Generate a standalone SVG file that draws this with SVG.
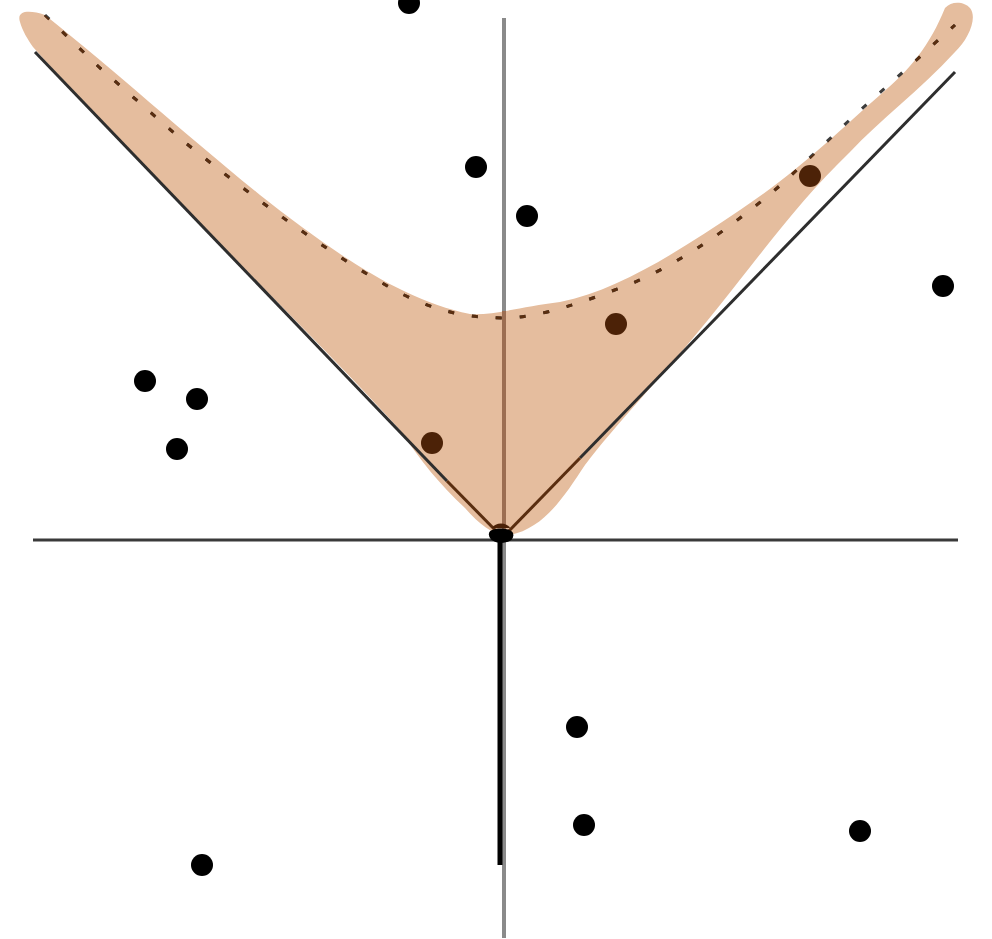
<svg xmlns="http://www.w3.org/2000/svg" width="992" height="939" viewBox="0 0 992 939">
<style>
.dot{fill:#000}
.bdot{fill:#4c2207}
.axis{stroke:#3a3a3a;stroke-width:3;fill:none}
.diag{stroke:#2e2e2e;stroke-width:3;fill:none}
.inner{stroke:#5a2e10;stroke-width:3;fill:none}
.dash{fill:none;stroke-width:3;stroke-dasharray:6 18}
</style>
<defs>
<path id="blob" d="M20,22 C16,10 30,10 45,15 C120,75 180,130 260,195 C330,250 400,300 470,314 C490,316 520,307 560,302 C620,290 680,250 740,210 C800,170 840,130 880,95 C910,70 930,45 945,8 C952,0 965,2 970,8 C978,18 968,40 955,52 C920,90 880,120 850,152 C800,200 760,255 720,305 C660,380 615,425 585,465 C565,495 545,528 510,535 C495,537 480,525 465,508 C440,485 420,460 400,430 C300,320 150,180 33,47 C28,40 22,30 20,22 Z"/>
<path id="curve" d="M45,15 L100,68 L182,140 C250,195 330,255 400,293 C440,313 470,318 505,318 C540,318 590,300 635,282 C690,258 740,220 783,183 L857,113 L914,62 L955,25"/>
<clipPath id="inside"><use href="#blob"/></clipPath>
</defs>
<rect width="992" height="939" fill="#fff"/>
<g id="axes">
<line x1="504" y1="18" x2="504" y2="938" stroke="#8a8a8a" stroke-width="4"/>
<line class="axis" x1="33" y1="540" x2="958" y2="540"/>
</g>
<g id="dots-under">
<circle class="dot" cx="476" cy="167" r="11"/>
<circle class="dot" cx="527" cy="216" r="11"/>
</g>
<g id="region">
<use href="#blob" fill="#e5bd9e"/>
<line x1="504" y1="311" x2="504" y2="530" stroke="#9c6e52" stroke-width="4"/>
</g>
<g id="connectors">
<line class="diag" x1="35" y1="52" x2="447" y2="481"/>
<line class="inner" x1="447" y1="481" x2="500" y2="535"/>
<line class="diag" x1="955" y1="72" x2="580" y2="458"/>
<line class="inner" x1="580" y1="458" x2="508" y2="532"/>
<line x1="500" y1="530" x2="500" y2="865" stroke="#000" stroke-width="5"/>
<use href="#curve" class="dash" stroke="#3c3c3c"/>
<use href="#curve" class="dash" stroke="#5a2e10" clip-path="url(#inside)"/>
</g>
<g id="origin">
<path fill="#000" d="M489,533 C490,527 511,527 513,533 C515,540 508,543 501,543 C494,543 488,539 489,533 Z"/>
<path fill="#4c2207" d="M492,528 C495,522 507,522 510,528 Z"/>
</g>
<g id="points">
<circle class="dot" cx="409" cy="3" r="11"/>
<circle class="dot" cx="943" cy="286" r="11"/>
<circle class="dot" cx="145" cy="381" r="11"/>
<circle class="dot" cx="197" cy="399" r="11"/>
<circle class="dot" cx="177" cy="449" r="11"/>
<circle class="dot" cx="577" cy="727" r="11"/>
<circle class="dot" cx="584" cy="825" r="11"/>
<circle class="dot" cx="860" cy="831" r="11"/>
<circle class="dot" cx="202" cy="865" r="11"/>
<circle class="bdot" cx="616" cy="324" r="11"/>
<circle class="bdot" cx="432" cy="443" r="11"/>
<circle class="bdot" cx="810" cy="176" r="11"/>
</g>
</svg>
